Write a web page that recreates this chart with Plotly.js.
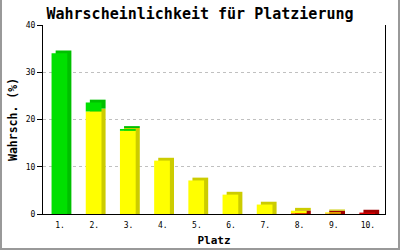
<!DOCTYPE html>
<html><head><meta charset="utf-8">
<script src="https://cdn.plot.ly/plotly-3.0.1.min.js"></script>
<style>
html,body{margin:0;padding:0;background:#fff;}
#chart{width:396px;height:248px;border-left:2px solid #999;border-right:2px solid #999;border-bottom:2px solid #999;}
</style></head>
<body><div id="chart"></div>
<script>
const categories = ["1.","2.","3.","4.","5.","6.","7.","8.","9.","10."];
const red    = [0, 0, 0, 0, 0, 0, 0, 0.15, 0.1, 0.3];
const yellow = [0, 21.7, 17.6, 11.3, 7.1, 4.1, 2.0, 0.55, 0.25, 0];
const green  = [34, 1.9, 0.4, 0, 0, 0, 0, 0, 0, 0];
const yTicks = [0, 10, 20, 30, 40];

const series = [
  {vals: red, front: "#dd0000", side: "#a00000"},
  {vals: yellow, front: "#ffff00", side: "#cccc00"},
  {vals: green, front: "#00e000", side: "#00c000"}
];
const xs = categories.map((c, i) => i);
const depthY = 0.6, depthX = 0.12, w = 0.46, off = -0.25;

const cum = categories.map(() => 0);
const shadows = [], fronts = [];
series.forEach((s, k) => {
  const base = cum.slice();
  const sy = [], sb = [], fy = [];
  s.vals.forEach((v, i) => {
    if (v > 0) {
      const isBottom = base[i] === 0;
      sb.push(isBottom ? 0 : base[i] + depthY);
      sy.push(isBottom ? v + depthY : v);
      fy.push(v);
    } else { sb.push(0); sy.push(null); fy.push(null); }
    cum[i] += v;
  });
  shadows.push({type: "bar", x: xs, y: sy, base: sb, width: w, offset: off + depthX,
    marker: {color: s.side, line: {width: 0}}, hoverinfo: "skip", showlegend: false});
  fronts.push({type: "bar", x: xs, y: fy, base: base, width: w, offset: off,
    marker: {color: s.front, line: {width: 0}}, hoverinfo: "skip", showlegend: false});
});

const mono = "DejaVu Sans Mono, Liberation Mono, monospace";
const layout = {
  width: 396, height: 248,
  margin: {l: 41, r: 13, t: 25, b: 34, pad: 0},
  paper_bgcolor: "#fff", plot_bgcolor: "#fff",
  barmode: "overlay", showlegend: false,
  title: {text: "<b>Wahrscheinlichkeit für Platzierung</b>", font: {family: mono, size: 15, color: "#000"},
    x: 0.5, xref: "container", y: 0.945, yref: "container", yanchor: "middle"},
  xaxis: {type: "linear", range: [-0.5, 9.5], tickvals: xs, ticktext: categories,
    showgrid: false, zeroline: false, showline: true, linecolor: "#000", linewidth: 1,
    ticks: "outside", ticklen: 3, tickcolor: "rgba(0,0,0,0)",
    tickfont: {family: mono, size: 8, color: "#000"},
    title: {text: "<b>Platz</b>", font: {family: mono, size: 11, color: "#000"}, standoff: 7}},
  yaxis: {range: [0, 40], tickvals: yTicks, ticktext: yTicks.map(String),
    showgrid: true, gridcolor: "#c0c0c0", griddash: "3px,3px", gridwidth: 1,
    zeroline: false, showline: true, mirror: true, linecolor: "#000", linewidth: 1,
    ticks: "outside", ticklen: 5, tickcolor: "#000",
    tickfont: {family: mono, size: 8, color: "#000"},
    title: {text: "<b>Wahrsch. (%)</b>", font: {family: mono, size: 11.5, color: "#000"}, standoff: 5}}
};
Plotly.newPlot("chart", shadows.concat(fronts), layout, {staticPlot: true, displayModeBar: false});
</script></body></html>
